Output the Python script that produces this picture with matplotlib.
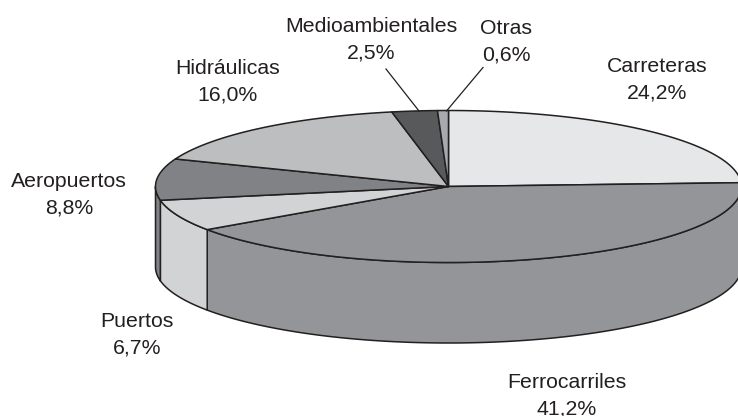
import numpy as np
import matplotlib
matplotlib.use("Agg")
import matplotlib.pyplot as plt
from matplotlib.patches import Polygon

plt.rcParams['font.family'] = ['Liberation Sans', 'DejaVu Sans']

categories = ['Carreteras', 'Ferrocarriles', 'Puertos', 'Aeropuertos',
              'Hidráulicas', 'Medioambientales', 'Otras']
values = [24.2, 41.2, 6.7, 8.8, 16.0, 2.5, 0.6]
value_labels = ['24,2%', '41,2%', '6,7%', '8,8%', '16,0%', '2,5%', '0,6%']
colors = ['#e6e7e8', '#939598', '#d1d3d4', '#808285', '#bcbec0', '#58595b', '#a7a9ac']
label_xy = [(657, 80), (567, 395.5), (137, 335), (69, 194.5), (227.5, 81.5), (371.5, 40), (506, 42)]

W, H = 738, 416
CX, CY, RX, RY, DEPTH = 448.5, 186.5, 293, 76, 80.5
EDGE = '#231f20'

fig = plt.figure(figsize=(W / 100, H / 100), dpi=100)
ax = fig.add_axes([0, 0, 1, 1])
ax.set_xlim(0, W)
ax.set_ylim(H, 0)
ax.axis('off')


def rim(a0, a1, dy=0.0):
    """Points of the ellipse rim between two angles (degrees, screen sense)."""
    t = np.radians(np.linspace(a0, a1, max(int(abs(a1 - a0) * 3), 2)))
    return np.column_stack([CX + RX * np.cos(t), CY + dy - RY * np.sin(t)])


total = sum(values)
bounds = 90 - np.concatenate([[0], np.cumsum(values)]) * 360 / total

# side walls: only the front half of the rim (-180..0 degrees)
for i in range(len(values)):
    a0, a1 = bounds[i], bounds[i + 1]
    lo, hi = max(a1, -180), min(a0, 0)
    if lo < hi:
        top = rim(hi, lo)
        bot = rim(lo, hi, DEPTH)
        ax.add_patch(Polygon(np.vstack([top, bot]), closed=True, fc=colors[i],
                             ec=EDGE, lw=1.1, joinstyle='round', zorder=2))

# top faces
for i in range(len(values)):
    pts = np.vstack([[CX, CY], rim(bounds[i], bounds[i + 1])])
    ax.add_patch(Polygon(pts, closed=True, fc=colors[i], ec=EDGE, lw=1.1,
                         joinstyle='round', zorder=3))

# leader lines
ax.plot([386, 419], [69, 111], color=EDGE, lw=0.9, zorder=4)
ax.plot([483, 446.5], [67.5, 111], color=EDGE, lw=0.9, zorder=4)

for name, val, (x, y) in zip(categories, value_labels, label_xy):
    ax.text(x, y, f'{name}\n{val}', ha='center', va='center', fontsize=15.3,
            color=EDGE, linespacing=1.5, zorder=5, clip_on=False)

fig.savefig('out.png', dpi=100)
